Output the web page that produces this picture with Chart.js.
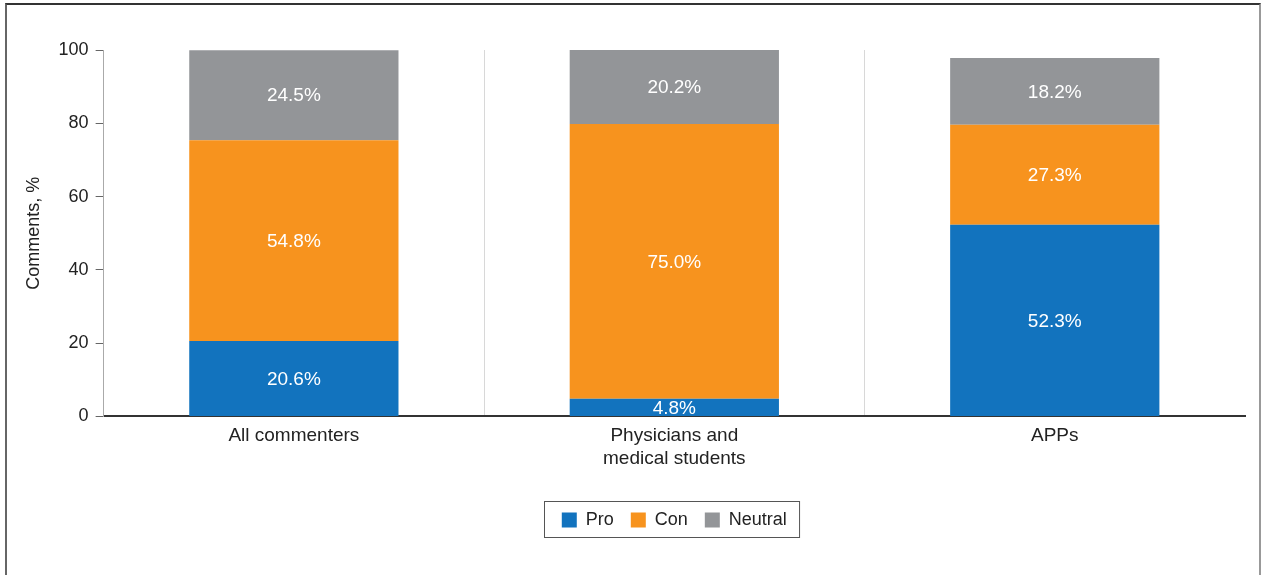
<!DOCTYPE html>
<html>
<head>
<meta charset="utf-8">
<script src="https://cdn.jsdelivr.net/npm/chart.js@4"></script>
<style>
    body { margin: 0; background: white; }
    #frame { position: absolute; left: 5px; top: 3px; width: 1252px; height: 620px; border-left: 2px solid #666; border-top: 2px solid #333; border-right: 2px solid #999; }
    #wrap { position: absolute; left: 0; top: 0; width: 1261px; height: 575px; }
</style>
</head>
<body>
<div id="frame"></div>
<div id="wrap"><canvas id="grafico"></canvas></div>
<script>
const categorias = ['All commenters', ['Physicians and', 'medical students'], 'APPs']
const pro = [20.6, 4.8, 52.3]
const con = [54.8, 75.0, 27.3]
const neutral = [24.5, 20.2, 18.2]
const yTicks = [0, 20, 40, 60, 80, 100]

const etiquetas = {
    id: 'etiquetas',
    afterDatasetsDraw(chart) {
        const ctx = chart.ctx
        ctx.save()
        ctx.fillStyle = 'white'
        ctx.font = '19px "Liberation Sans", Arial, sans-serif'
        ctx.textAlign = 'center'
        ctx.textBaseline = 'middle'
        chart.data.datasets.forEach((ds, i) => {
            chart.getDatasetMeta(i).data.forEach((bar, j) => {
                const p = bar.getProps(['x', 'y', 'base'], true)
                ctx.fillText(ds.data[j].toFixed(1) + '%', p.x, (p.y + p.base) / 2 + 1)
            })
        })
        ctx.restore()
    }
}

const cajaLeyenda = {
    id: 'cajaLeyenda',
    afterDraw(chart) {
        const boxes = chart.legend.legendHitBoxes
        if (!boxes.length) return
        const left = Math.min(...boxes.map(b => b.left))
        const right = Math.max(...boxes.map(b => b.left + b.width))
        const top = Math.min(...boxes.map(b => b.top))
        const bottom = Math.max(...boxes.map(b => b.top + b.height))
        const ctx = chart.ctx
        ctx.save()
        ctx.strokeStyle = '#555'
        ctx.lineWidth = 1
        ctx.strokeRect(Math.round(left - 18) + 0.5, Math.round(top - 10) + 0.5, (right - left) + 30, (bottom - top) + 18)
        ctx.restore()
    }
}

Chart.defaults.font.family = '"Liberation Sans", Arial, sans-serif'
Chart.defaults.color = '#222'

new Chart(document.getElementById('grafico'), {
    type: 'bar',
    data: {
        labels: categorias,
        datasets: [
            { label: 'Pro', data: pro, backgroundColor: 'rgb(18, 115, 190)' },
            { label: 'Con', data: con, backgroundColor: 'rgb(247, 147, 30)' },
            { label: 'Neutral', data: neutral, backgroundColor: 'rgb(147, 149, 152)' }
        ]
    },
    options: {
        responsive: true,
        maintainAspectRatio: false,
        animation: false,
        barPercentage: 0.55,
        categoryPercentage: 1,
        layout: { padding: { left: 19, right: 16, top: 50, bottom: 36 } },
        plugins: {
            legend: {
                position: 'bottom',
                fullSize: false,
                labels: {
                    boxWidth: 15,
                    boxHeight: 15,
                    padding: 17,
                    font: { size: 18 },
                    color: '#222'
                }
            },
            tooltip: { enabled: false }
        },
        scales: {
            x: {
                stacked: true,
                grid: {
                    offset: true,
                    drawTicks: false,
                    color: (c) => (c.index === 1 || c.index === 2) ? '#d8d8d8' : 'rgba(0,0,0,0)'
                },
                border: { color: '#333', width: 2 },
                ticks: { font: { size: 19 }, color: '#222', padding: 8 },
                afterFit: (axis) => { axis.height += 16 }
            },
            y: {
                stacked: true,
                min: 0,
                max: 100,
                afterBuildTicks: (axis) => { axis.ticks = yTicks.map(v => ({ value: v })) },
                grid: { drawOnChartArea: false, tickLength: 8, color: '#666' },
                border: { color: '#aaa', width: 1 },
                ticks: { font: { size: 18 }, color: '#222', padding: 7 },
                title: { display: true, text: 'Comments, %', font: { size: 18 }, color: '#222', padding: { bottom: 7 } }
            }
        }
    },
    plugins: [etiquetas, cajaLeyenda]
})
</script>
</body>
</html>
